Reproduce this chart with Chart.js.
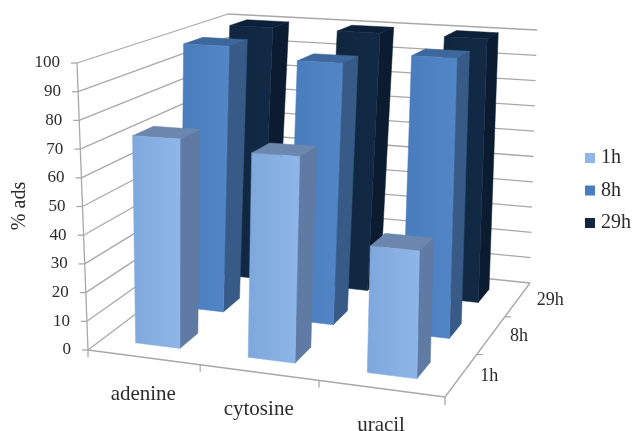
<!DOCTYPE html>
<html>
<head>
<meta charset="utf-8">
<style>
  html, body { margin: 0; padding: 0; background: #fff; }
  canvas { display: block; }
</style>
<script src="https://cdn.jsdelivr.net/npm/chart.js@4/dist/chart.umd.min.js"></script>
</head>
<body>
<canvas id="ads_chart" width="632" height="431"></canvas>
<script>
const bases = ["adenine", "cytosine", "uracil"];
const times = ["1h", "8h", "29h"];
const values1h = [73, 70, 42];
const values8h = [99, 95, 99];
const values29h = [100, 100, 100];

const serif = "'Liberation Serif', 'Times New Roman', serif";
const textColor = "#2b2b2b";
const gridColor = "#a8a8a8";
const barRatio = 0.4;

// corners of the plot box: floor plane and the plane at the top of the value axis
const floorCorners = [[88, 350], [445, 397], [530, 283], [219, 251]];
const topCorners = [[77, 63], [449, 82], [537, 30], [228, 14]];

const faces = [
  { front: ["#7fa8dc", "#8fb6e8"], side: "#5f7ba3", top: "#6c87ad" },
  { front: ["#4a7dbd", "#5286c6"], side: "#375a87", top: "#3e689c" },
  { front: ["#10263f", "#122a46"], side: "#0b1b30", top: "#0d2039" },
];

// unit square -> quad
function homography(q) {
  const [[x0, y0], [x1, y1], [x2, y2], [x3, y3]] = q;
  const dx1 = x1 - x2, dx2 = x3 - x2, sx = x0 - x1 + x2 - x3;
  const dy1 = y1 - y2, dy2 = y3 - y2, sy = y0 - y1 + y2 - y3;
  const den = dx1 * dy2 - dx2 * dy1;
  const g = (sx * dy2 - dx2 * sy) / den;
  const h = (dx1 * sy - sx * dy1) / den;
  const a = x1 - x0 + g * x1, b = x3 - x0 + h * x3;
  const d = y1 - y0 + g * y1, e = y3 - y0 + h * y3;
  return (u, v) => {
    const w = g * u + h * v + 1;
    return [(a * u + b * v + x0) / w, (d * u + e * v + y0) / w];
  };
}

const floorMap = homography(floorCorners);
const topMap = homography(topCorners);

// u along categories, v along depth, t up the value axis (all 0..1)
function project(u, v, t) {
  const p = floorMap(u, v);
  const q = topMap(u, v);
  return [p[0] + (q[0] - p[0]) * t, p[1] + (q[1] - p[1]) * t];
}

function line(ctx, a, b) {
  ctx.beginPath();
  ctx.moveTo(a[0], a[1]);
  ctx.lineTo(b[0], b[1]);
  ctx.stroke();
}

function face(ctx, pts, fill) {
  ctx.beginPath();
  pts.forEach((p, i) => (i ? ctx.lineTo(p[0], p[1]) : ctx.moveTo(p[0], p[1])));
  ctx.closePath();
  ctx.fillStyle = fill;
  ctx.fill();
  ctx.strokeStyle = fill;
  ctx.lineWidth = 0.5;
  ctx.stroke();
}

const box3d = {
  id: "box3d",
  beforeDatasetsDraw(chart) {
    const ctx = chart.ctx;
    const y = chart.scales.y;
    ctx.save();
    ctx.strokeStyle = gridColor;
    ctx.lineWidth = 1.3;
    ctx.fillStyle = textColor;

    // value gridlines run along the left wall and the back wall
    ctx.font = "17px " + serif;
    ctx.textAlign = "right";
    ctx.textBaseline = "middle";
    y.ticks.forEach((tick) => {
      const t = y.getDecimalForPixel(y.getPixelForValue(tick.value));
      const a = project(0, 0, t);
      line(ctx, a, project(0, 1, t));
      line(ctx, project(0, 1, t), project(1, 1, t));
      line(ctx, a, [a[0] - 6, a[1]]);
      ctx.fillText(tick.label, a[0] - 17, a[1]);
    });
    line(ctx, project(0, 0, 0), project(0, 0, 1));

    // floor edges
    line(ctx, project(0, 0, 0), project(1, 0, 0));
    line(ctx, project(1, 0, 0), project(1, 1, 0));

    // category axis along the front edge
    ctx.font = "21px " + serif;
    ctx.textAlign = "center";
    bases.forEach((name, i) => {
      const edge = project(i / bases.length, 0, 0);
      line(ctx, edge, [edge[0], edge[1] + 7]);
      const mid = project((i + 0.5) / bases.length, 0, 0);
      ctx.fillText(name, mid[0], mid[1] + 37);
    });
    const end = project(1, 0, 0);
    line(ctx, end, [end[0], end[1] + 8]);

    // depth axis along the right edge
    ctx.font = "18px " + serif;
    ctx.textAlign = "left";
    times.forEach((name, i) => {
      if (i > 0) {
        const edge = project(1, i / times.length, 0);
        line(ctx, edge, [edge[0] + 6, edge[1]]);
      }
      const mid = project(1, (i + 0.5) / times.length, 0);
      ctx.fillText(name, mid[0] + 19, mid[1] + 1);
    });

    // axis title
    ctx.translate(20, 206);
    ctx.rotate(-Math.PI / 2);
    ctx.font = "20px " + serif;
    ctx.textAlign = "center";
    ctx.fillText("% ads", 0, 0);
    ctx.restore();
  },
  beforeDatasetDraw(chart, args) {
    const ctx = chart.ctx;
    const x = chart.scales.x;
    const y = chart.scales.y;
    const depth = chart.scales.depth;
    const style = faces[args.index];
    const centre = depth.getDecimalForPixel(depth.getPixelForValue(args.index));
    const half = (barRatio * 0.5) / times.length;
    const v0 = centre - half, v1 = centre + half;

    args.meta.data.forEach((bar) => {
      const u0 = x.getDecimalForPixel(bar.x - bar.width / 2);
      const u1 = x.getDecimalForPixel(bar.x + bar.width / 2);
      const t = y.getDecimalForPixel(bar.y);
      const b = y.getDecimalForPixel(bar.base);

      const fl = project(u0, v0, t), fr = project(u1, v0, t);
      const gradient = ctx.createLinearGradient(fl[0], 0, fr[0], 0);
      gradient.addColorStop(0, style.front[0]);
      gradient.addColorStop(1, style.front[1]);

      face(ctx, [project(u1, v0, b), project(u1, v1, b), project(u1, v1, t), fr], style.side);
      face(ctx, [fl, fr, project(u1, v1, t), project(u0, v1, t)], style.top);
      face(ctx, [project(u0, v0, b), project(u1, v0, b), fr, fl], gradient);
    });
    return false;
  },
  afterDraw(chart) {
    // legend: small squares with the series name to their right
    const ctx = chart.ctx;
    ctx.save();
    ctx.font = "20px " + serif;
    ctx.textAlign = "left";
    ctx.textBaseline = "middle";
    chart.data.datasets.forEach((ds, i) => {
      const rowY = 158 + i * 32.5;
      ctx.fillStyle = ds.backgroundColor;
      ctx.fillRect(585, rowY - 5, 10, 10);
      ctx.fillStyle = textColor;
      ctx.fillText(ds.label, 601, rowY);
    });
    ctx.restore();
  },
};

new Chart(document.getElementById("ads_chart"), {
  type: "bar",
  data: {
    labels: bases,
    datasets: [
      { label: times[0], data: values1h, backgroundColor: faces[0].front[1] },
      { label: times[1], data: values8h, backgroundColor: faces[1].front[0] },
      { label: times[2], data: values29h, backgroundColor: faces[2].front[0] },
    ],
  },
  plugins: [box3d],
  options: {
    responsive: false,
    animation: false,
    datasets: { bar: { grouped: false, barPercentage: barRatio, categoryPercentage: 1 } },
    scales: {
      x: { display: false },
      depth: { type: "category", axis: "x", labels: times, display: false, offset: true },
      y: { display: false, min: 0, max: 100, ticks: { stepSize: 10 } },
    },
    plugins: {
      tooltip: { enabled: false },
      legend: { display: false },
    },
  },
});
</script>
</body>
</html>
